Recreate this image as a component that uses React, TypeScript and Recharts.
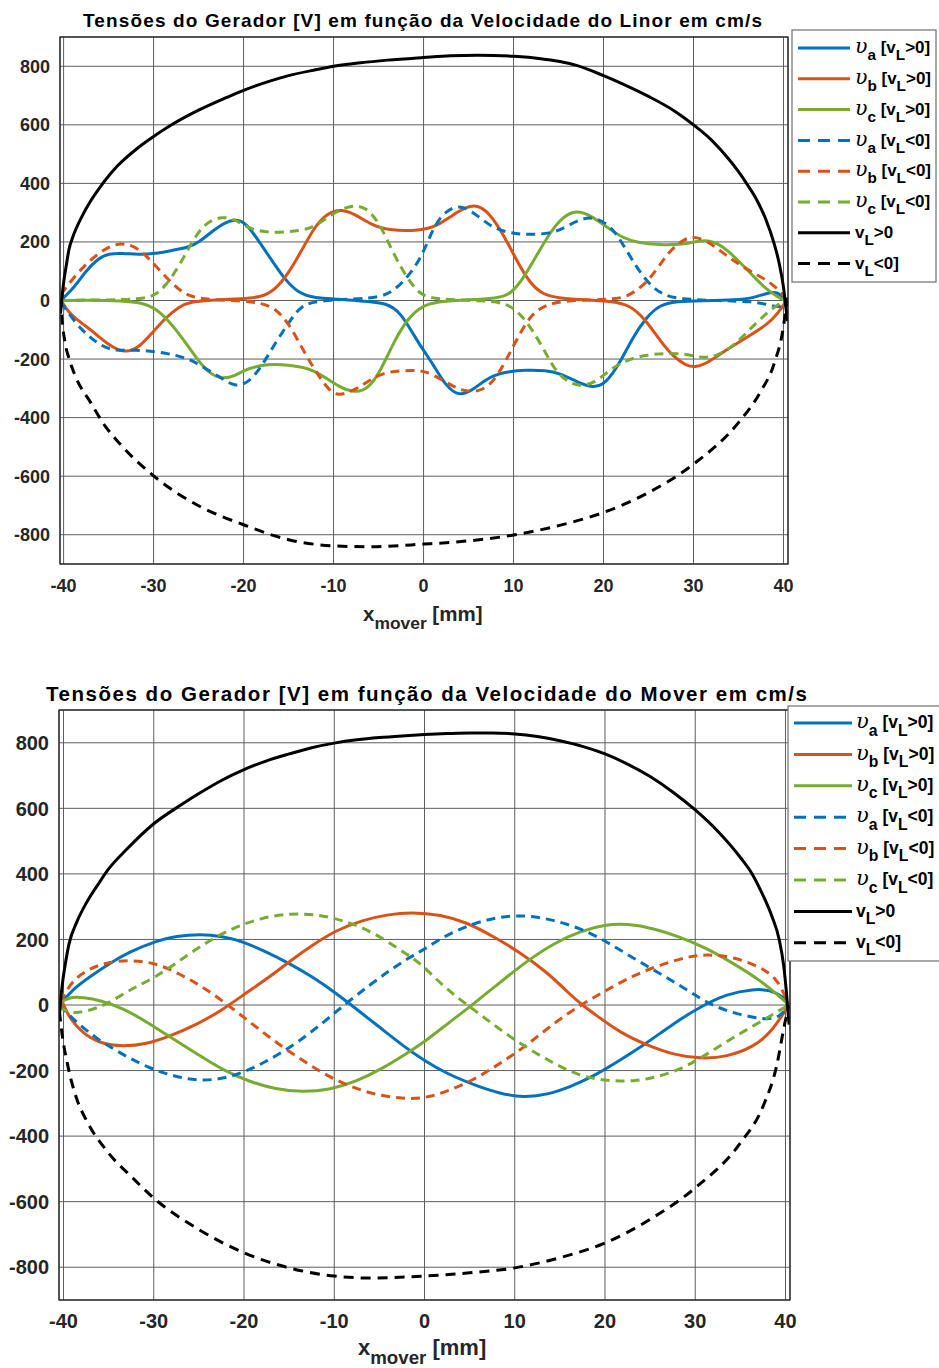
import React from "react";
import { LineChart, Line, XAxis, YAxis, CartesianGrid } from "recharts";

type Pt = [number, number];

const xTicks = [-40, -30, -20, -10, 0, 10, 20, 30, 40];
const yTicks = [-800, -600, -400, -200, 0, 200, 400, 600, 800];

// ---- top panel: velocidade do Linor ----
const linorVaPos: Pt[] = [
  [-40.3, 0], [-38.7, 48], [-37.6, 99], [-36.1, 145], [-35, 160], [-33.5, 162], [-31.7, 156],
  [-29.8, 160], [-28, 171], [-26.1, 182], [-25, 198], [-23.5, 236], [-22.1, 267], [-20.8, 278],
  [-19.7, 264], [-18.4, 207], [-16.9, 139], [-15.4, 71], [-13.9, 25], [-12.1, 8], [-9.5, 5],
  [-6.5, -3], [-4, -9], [-2.5, -43], [-1, -123], [0.2, -180], [1, -215], [2.5, -294], [4, -328],
  [5.5, -305], [7.3, -260], [9.2, -243], [11.4, -237], [13.6, -239], [15.1, -248], [17, -277],
  [18.8, -300], [20.3, -283], [21.8, -214], [23.3, -123], [24.7, -60], [26.2, -15], [28.1, -3],
  [31, -1], [34.7, 2], [36.6, 8], [38.1, 25], [39.4, 31], [40.3, 0],
];
const linorVbPos: Pt[] = [
  [-40.3, 0], [-39.4, -43], [-38, -77], [-36.5, -112], [-35, -152], [-33.2, -180], [-31.7, -163],
  [-30.2, -112], [-28.7, -60], [-27.2, -21], [-25.8, -3], [-23.2, 2], [-20.2, 6], [-18, 11],
  [-16.5, 36], [-15, 93], [-13.5, 173], [-12.1, 253], [-10.6, 301], [-9.1, 312], [-7.7, 296],
  [-5.8, 259], [-4, 239], [-0.3, 238], [1.4, 253], [3.3, 293], [4.7, 319], [6, 327], [7.3, 299],
  [8.8, 230], [10.3, 139], [11.8, 59], [13.3, 19], [15.1, 8], [18.1, 2], [21, -3], [22.9, -15],
  [24.7, -66], [26.2, -134], [27.7, -191], [29.2, -223], [30.3, -229], [31.8, -209], [33.6, -169],
  [35.5, -134], [37.3, -100], [38.8, -66], [39.9, -21], [40.3, 0],
];
const linorVcPos: Pt[] = [
  [-40.3, 0], [-37.2, 2], [-33.5, -1], [-31.3, -7], [-29.8, -26], [-28.4, -66], [-26.9, -123],
  [-25.4, -191], [-23.9, -248], [-22.4, -269], [-21, -258], [-19.5, -231], [-17.3, -217],
  [-15, -220], [-12.8, -231], [-11.3, -254], [-9.5, -294], [-7.7, -315], [-6.2, -305],
  [-4.7, -237], [-3.2, -134], [-1.7, -60], [-0.3, -21], [1.4, -3], [5.1, 2], [8.1, 8], [9.6, 19],
  [11, 71], [12.5, 150], [14, 230], [15.5, 287], [17, 308], [18.4, 293], [20.3, 253], [22.1, 213],
  [24, 196], [26.2, 190], [28.4, 190], [30.3, 202], [31.8, 207], [33.3, 185], [35.1, 133],
  [37, 71], [38.4, 31], [39.9, 2], [40.3, 0],
];
const linorVaNeg: Pt[] = [
  [-40.3, -5], [-38.7, -77], [-37.2, -123], [-35.7, -157], [-34.3, -172], [-32, -169],
  [-29.8, -174], [-27.6, -186], [-25.8, -203], [-24.3, -231], [-22.4, -266], [-21, -294],
  [-19.5, -283], [-18, -226], [-16.5, -146], [-15, -77], [-13.6, -15], [-11.7, -1], [-7.7, 5],
  [-4.7, 11], [-3.2, 36], [-1.7, 82], [-0.3, 145], [0.7, 219], [1.8, 287], [3.3, 321], [4.4, 321],
  [5.9, 293], [7.7, 247], [9.6, 230], [11.8, 224], [14.4, 230], [15.9, 253], [17.3, 276],
  [18.8, 287], [20.7, 259], [22.1, 196], [23.6, 116], [25.1, 54], [26.6, 19], [28.4, 5],
  [32.9, -1], [36.6, -3], [38.4, -15], [39.9, -26], [40.3, 0],
];
const linorVbNeg: Pt[] = [
  [-40.3, 20], [-39.1, 71], [-37.6, 122], [-36.1, 162], [-34.6, 190], [-33.2, 196], [-31.7, 179],
  [-30.2, 133], [-28.7, 82], [-27.2, 36], [-25.8, 11], [-23.5, 2], [-20.2, -1], [-18, -9],
  [-16.5, -26], [-15, -77], [-13.6, -157], [-12.1, -237], [-10.6, -305], [-9.5, -326], [-8, -311],
  [-6.5, -283], [-4.7, -248], [-2.5, -239], [-0.6, -239], [0.3, -243], [1.8, -266], [3.3, -294],
  [4.7, -311], [6.2, -311], [7.7, -283], [9.2, -203], [10.7, -112], [12.1, -43], [13.6, -15],
  [15.5, -1], [18.8, 2], [21, 5], [22.5, 11], [24.4, 48], [25.9, 105], [27.3, 168], [28.8, 207],
  [29.9, 219], [31.4, 207], [33.3, 162], [35.1, 122], [37, 88], [38.4, 65], [39.9, 25], [40.3, 0],
];
const linorVcNeg: Pt[] = [
  [-40.3, 0], [-37.2, 2], [-33.5, 2], [-30.9, 8], [-29.8, 19], [-28.7, 48], [-27.2, 116],
  [-26.1, 179], [-25, 236], [-23.9, 270], [-22.4, 287], [-21, 278], [-19.5, 247], [-17.6, 232],
  [-15, 234], [-12.8, 242], [-11.3, 270], [-9.5, 308], [-7.7, 327], [-6.2, 316], [-4.7, 253],
  [-3.2, 150], [-1.7, 71], [-0.5, 25], [0.7, 8], [3.3, 2], [7, -1], [9.2, -9], [10.7, -43],
  [12.1, -100], [13.6, -180], [14.7, -243], [16.2, -283], [17.7, -294], [19.2, -277],
  [20.7, -237], [22.5, -203], [24.7, -186], [26.9, -180], [29.2, -182], [31, -197], [32.5, -191],
  [34.4, -157], [36.2, -100], [38.1, -43], [39.6, -9], [40.3, 0],
];
const linorVelPos: Pt[] = [
  [-40.35, -45], [-40.2, 5], [-40, 60], [-39.7, 120], [-39.4, 175], [-39, 215], [-38, 285],
  [-37, 340], [-36, 385], [-35, 425], [-34, 460], [-32, 515], [-30, 560], [-28, 600], [-25, 650],
  [-22, 692], [-20, 718], [-17, 750], [-15, 768], [-12, 788], [-10, 800], [-7, 812], [-4, 821],
  [0, 830], [3, 836], [6, 838], [10, 834], [13, 826], [15, 817], [17, 803], [20, 768], [23, 727],
  [25, 697], [28, 645], [30, 600], [32, 548], [34, 480], [35, 440], [36, 395], [37, 345],
  [38, 280], [39, 190], [39.5, 130], [40, 45], [40.25, -20], [40.45, -70],
];
const linorVelNeg: Pt[] = [
  [-40.35, 10], [-40.2, -55], [-39.8, -150], [-39.4, -198], [-38.7, -258], [-37, -348],
  [-35.4, -428], [-33.7, -491], [-30, -599], [-25, -701], [-20, -766], [-15, -817], [-10, -838],
  [-6, -841], [0, -832], [5, -821], [10, -801], [15, -769], [20, -724], [25, -656], [30, -559],
  [35, -417], [37.5, -309], [39, -212], [40, -88], [40.3, -20], [40.45, 10],
];

// ---- bottom panel: velocidade do Mover ----
const moverVaPos: Pt[] = [
  [-40.4, 5], [-40, 15], [-38.6, 56], [-37.1, 86], [-34.9, 127], [-32.7, 162], [-29.7, 196],
  [-27.5, 210], [-24.9, 216], [-22.4, 210], [-20.1, 193], [-17.6, 163], [-15, 127], [-12.4, 86],
  [-9.8, 36], [-7.2, -20], [-4.6, -76], [-2.1, -130], [0, -170], [2.5, -210], [5.5, -244],
  [8.4, -271], [11, -282], [13.6, -274], [16.2, -249], [18.7, -218], [21.7, -168], [24.6, -117],
  [27.6, -56], [30.6, -5], [33.5, 34], [36.5, 49], [38.3, 46], [39.8, 25], [40.4, 0],
];
const moverVbPos: Pt[] = [
  [-40.4, 30], [-40, 0], [-39.3, -41], [-37.9, -86], [-36, -117], [-33.4, -127], [-30.8, -119],
  [-28.3, -96], [-25.3, -61], [-22.4, -15], [-19.8, 36], [-17.2, 85], [-15, 132], [-12.4, 183],
  [-9.8, 228], [-6.9, 259], [-3.9, 277], [-1.5, 283], [1.8, 276], [4.7, 252], [7.7, 208],
  [10.6, 160], [13.6, 100], [16.2, 30], [17.5, 0], [18.7, -25], [21.7, -85], [24.6, -122],
  [27.6, -152], [30.6, -164], [33.5, -159], [36.5, -127], [38.3, -86], [39.8, -25], [40.4, 0],
];
const moverVcPos: Pt[] = [
  [-40.4, 5], [-40, 15], [-39, 25], [-37.9, 23], [-36, 15], [-33.4, -10], [-30.8, -51],
  [-28.3, -96], [-25.3, -147], [-22.4, -198], [-19.4, -234], [-16.5, -257], [-13.5, -266],
  [-10.6, -259], [-7.6, -234], [-4.6, -193], [-2.1, -150], [0, -113], [2.5, -58], [5.3, 0],
  [8.4, 70], [11.4, 135], [14.3, 188], [17.3, 226], [20.2, 246], [22.4, 248], [25.4, 234],
  [28.3, 208], [31.3, 173], [34.2, 127], [37.2, 76], [39.8, 15], [40.4, 0],
];
const moverVaNeg: Pt[] = [
  [-40.4, 0], [-40, -15], [-38.6, -51], [-36.4, -102], [-33.4, -152], [-30.5, -193],
  [-27.5, -220], [-24.9, -231], [-22.4, -226], [-19.8, -203], [-17.2, -168], [-14.2, -117],
  [-11.3, -56], [-8.7, 5], [-6.1, 60], [-3.9, 105], [-1.7, 145], [0, 170], [2.5, 215], [5.5, 250],
  [8.4, 270], [11.4, 274], [14.3, 259], [17.3, 234], [20.2, 193], [23.2, 142], [26.1, 96],
  [29.1, 46], [32, -5], [35, -30], [37.9, -46], [39.4, -36], [40.4, 0],
];
const moverVbNeg: Pt[] = [
  [-40.4, 10], [-40, 25], [-39, 76], [-37.1, 112], [-34.9, 132], [-32.3, 137], [-29.7, 127],
  [-27.2, 96], [-24.6, 56], [-22, 5], [-19.4, -51], [-16.8, -107], [-14.2, -157], [-11.3, -208],
  [-8.3, -249], [-5.4, -274], [-2.4, -286], [0, -285], [2.5, -264], [5.5, -228], [8.4, -178],
  [11.4, -122], [14.3, -56], [17.3, 0], [20.2, 46], [23.2, 91], [26.1, 122], [29.1, 147],
  [31.3, 155], [34.2, 147], [37.2, 117], [39, 81], [39.8, 36], [40.4, 0],
];
const moverVcNeg: Pt[] = [
  [-40.4, -5], [-40, -15], [-39, -25], [-37.5, -20], [-35.3, 0], [-32.7, 46], [-29.7, 86],
  [-26.8, 142], [-23.8, 198], [-20.9, 239], [-17.9, 267], [-15, 279], [-12, 277], [-9.1, 259],
  [-6.1, 228], [-3.2, 178], [-1, 137], [0, 115], [2.5, 46], [5.5, -15], [8.4, -76], [11.4, -132],
  [14.3, -178], [17.3, -218], [20.2, -231], [23.2, -234], [26.1, -218], [29.1, -188], [32, -137],
  [35, -86], [37.9, -41], [39.4, -15], [40.4, 0],
];
const moverVelPos: Pt[] = [
  [-40.45, -30], [-40.3, 20], [-40.1, 70], [-39.8, 125], [-39.4, 185], [-38.5, 255],
  [-37.5, 310], [-36, 375], [-35, 415], [-33, 475], [-30, 553], [-27, 610], [-25, 645],
  [-22.5, 685], [-20, 718], [-17.5, 745], [-15, 766], [-12.5, 785], [-10, 799], [-7.5, 809],
  [-5, 816], [-2.5, 821], [0, 825], [2.5, 828], [5, 830], [7.5, 830], [10, 827], [12.5, 819],
  [15, 806], [17.5, 789], [20, 766], [22.5, 735], [25, 697], [27.5, 650], [30, 595], [32.5, 530],
  [35, 450], [36.3, 400], [37.5, 335], [38.5, 270], [39.3, 200], [39.8, 120], [40.1, 40],
  [40.4, -60],
];
const moverVelNeg: Pt[] = [
  [-40.45, -20], [-40.2, -80], [-39.5, -188], [-38.5, -289], [-37.5, -350], [-35, -452],
  [-32.5, -523], [-30, -589], [-25, -685], [-20, -756], [-15, -802], [-10, -827], [-6, -833],
  [0, -827], [5, -817], [10, -802], [15, -771], [20, -726], [25, -654], [30, -558], [35, -421],
  [37.5, -310], [39, -188], [40, -46], [40.4, 0],
];

const BLUE = "#0072BD";
const ORANGE = "#D95319";
const GREEN = "#77AC30";
const BLACK = "#000000";
const FONT = "'Liberation Sans', Arial, Helvetica, sans-serif";
const INK = "#262626";

type Series = {
  id: string;
  pts: Pt[];
  color: string;
  dashed: boolean;
  greek: boolean;
  sub: string;
  cond: string;
};

function buildSeries(p: Pt[][]): Series[] {
  return [
    { id: "vaP", pts: p[0], color: BLUE, dashed: false, greek: true, sub: "a", cond: ">0]" },
    { id: "vbP", pts: p[1], color: ORANGE, dashed: false, greek: true, sub: "b", cond: ">0]" },
    { id: "vcP", pts: p[2], color: GREEN, dashed: false, greek: true, sub: "c", cond: ">0]" },
    { id: "vaN", pts: p[3], color: BLUE, dashed: true, greek: true, sub: "a", cond: "<0]" },
    { id: "vbN", pts: p[4], color: ORANGE, dashed: true, greek: true, sub: "b", cond: "<0]" },
    { id: "vcN", pts: p[5], color: GREEN, dashed: true, greek: true, sub: "c", cond: "<0]" },
    { id: "vlP", pts: p[6], color: BLACK, dashed: false, greek: false, sub: "L", cond: ">0" },
    { id: "vlN", pts: p[7], color: BLACK, dashed: true, greek: false, sub: "L", cond: "<0]" },
  ];
}

const linorSeries = buildSeries([
  linorVaPos, linorVbPos, linorVcPos, linorVaNeg, linorVbNeg, linorVcNeg, linorVelPos, linorVelNeg,
]);
const moverSeries = buildSeries([
  moverVaPos, moverVbPos, moverVcPos, moverVaNeg, moverVbNeg, moverVcNeg, moverVelPos, moverVelNeg,
]);

type PanelProps = {
  series: Series[];
  top: number;
  height: number;
  margin: { top: number; right: number; left: number; bottom: number };
  yWidth: number;
  xDomain: [number, number];
  fs: number;
};

function Panel({ series, top, height, margin, yWidth, xDomain, fs }: PanelProps) {
  return (
    <div style={{ position: "absolute", left: 0, top }}>
      <LineChart width={800} height={height} margin={margin}>
        <CartesianGrid stroke="#5e5e5e" strokeWidth={1} />
        <XAxis
          type="number"
          dataKey="x"
          domain={xDomain}
          ticks={xTicks}
          interval={0}
          allowDataOverflow
          height={40}
          axisLine={false}
          tickLine={false}
          tickSize={0}
          tickMargin={0}
          tick={(p: any) => (
            <text x={p.x} y={p.y + 28} textAnchor="middle" fontSize={fs} fontWeight="bold" fill={INK} fontFamily={FONT}>
              {p.payload.value}
            </text>
          )}
        />
        <YAxis
          type="number"
          domain={[-900, 900]}
          ticks={yTicks}
          interval={0}
          allowDataOverflow
          width={yWidth}
          axisLine={false}
          tickLine={false}
          tickSize={0}
          tickMargin={0}
          tick={(p: any) => (
            <text x={p.x - 10} y={p.y} dy="0.36em" textAnchor="end" fontSize={fs} fontWeight="bold" fill={INK} fontFamily={FONT}>
              {p.payload.value}
            </text>
          )}
        />
        {series.map((s) => (
          <Line
            key={s.id}
            data={s.pts.map(([x, v]) => ({ x, v }))}
            dataKey="v"
            type={s.color === BLACK ? "monotone" : "basis"}
            stroke={s.color}
            strokeWidth={3}
            strokeDasharray={s.dashed ? (s.color === BLACK ? "10 7" : "9 6") : undefined}
            dot={false}
            activeDot={false}
            isAnimationActive={false}
          />
        ))}
      </LineChart>
    </div>
  );
}

type LegendProps = {
  series: Series[];
  box: [number, number, number, number];
  rowY: number;
  step: number;
  x1: number;
  x2: number;
  tx: number;
  fs: number;
};

function LegendBox({ series, box, rowY, step, x1, x2, tx, fs }: LegendProps) {
  const d = fs * 0.42;
  return (
    <g>
      <rect x={box[0]} y={box[1]} width={box[2]} height={box[3]} fill="#fff" stroke="#7a7a7a" strokeWidth={1.3} />
      {series.map((s, i) => {
        const y = rowY + i * step;
        return (
          <g key={s.id}>
            <line x1={x1} x2={x2} y1={y} y2={y} stroke={s.color} strokeWidth={3} strokeDasharray={s.dashed ? "12 8" : undefined} />
            <text x={tx} y={y + fs * 0.3} fontSize={fs} fontWeight="bold" fontFamily={FONT} fill="#000">
              {s.greek ? (
                <>
                  <tspan fontFamily="'DejaVu Serif', serif" fontStyle="italic" fontWeight="normal" fontSize={fs * 1.2}>υ</tspan>
                  <tspan dy={d} fontSize={fs * 0.9}>{s.sub}</tspan>
                  <tspan dy={-d} fontSize={fs}>{" [v"}</tspan>
                  <tspan dy={d} fontSize={fs * 0.9}>L</tspan>
                  <tspan dy={-d} fontSize={fs}>{s.cond}</tspan>
                </>
              ) : (
                <>
                  <tspan>v</tspan>
                  <tspan dy={d} fontSize={fs * 0.9}>L</tspan>
                  <tspan dy={-d} fontSize={fs}>{s.cond}</tspan>
                </>
              )}
            </text>
          </g>
        );
      })}
    </g>
  );
}

function AxisLabel({ x, y, fs }: { x: number; y: number; fs: number }) {
  return (
    <text x={x} y={y} fontSize={fs} fontWeight="bold" fontFamily={FONT} fill={INK}>
      x
      <tspan dy={fs * 0.4} fontSize={fs * 0.85}>mover</tspan>
      <tspan dy={-fs * 0.4} fontSize={fs}>{" [mm]"}</tspan>
    </text>
  );
}

export default function App() {
  return (
    <div style={{ position: "absolute", left: 0, top: 0, width: 939, height: 1368, overflow: "hidden", background: "#fff" }}>
      <Panel
        series={linorSeries}
        top={0}
        height={640}
        margin={{ top: 37, right: 12, left: 0, bottom: 36 }}
        yWidth={60}
        xDomain={[-40.4, 40.5]}
        fs={18}
      />
      <Panel
        series={moverSeries}
        top={660}
        height={708}
        margin={{ top: 50, right: 10, left: 0, bottom: 28 }}
        yWidth={59}
        xDomain={[-40.5, 40.5]}
        fs={20}
      />
      <svg width={939} height={1368} style={{ position: "absolute", left: 0, top: 0, pointerEvents: "none" }}>
        <rect x={60} y={37} width={728} height={527} fill="none" stroke={INK} strokeWidth={1.3} />
        <rect x={59} y={710} width={731} height={590} fill="none" stroke={INK} strokeWidth={1.3} />
        <text x={83} y={27} fontSize={19} fontWeight="bold" fontFamily={FONT} fill="#000" textLength={679} lengthAdjust="spacing">
          Tensões do Gerador [V] em função da Velocidade do Linor em cm/s
        </text>
        <text x={46} y={701} fontSize={20.5} fontWeight="bold" fontFamily={FONT} fill="#000" textLength={761} lengthAdjust="spacing">
          Tensões do Gerador [V] em função da Velocidade do Mover em cm/s
        </text>
        <AxisLabel x={363} y={621} fs={20.5} />
        <AxisLabel x={358} y={1355} fs={22} />
        <LegendBox series={linorSeries} box={[792, 30, 144, 252]} rowY={48} step={30.8} x1={798} x2={850} tx={855} fs={17} />
        <LegendBox series={moverSeries} box={[788, 706, 170, 255]} rowY={723} step={31.4} x1={794} x2={852} tx={856} fs={17.5} />
      </svg>
    </div>
  );
}
